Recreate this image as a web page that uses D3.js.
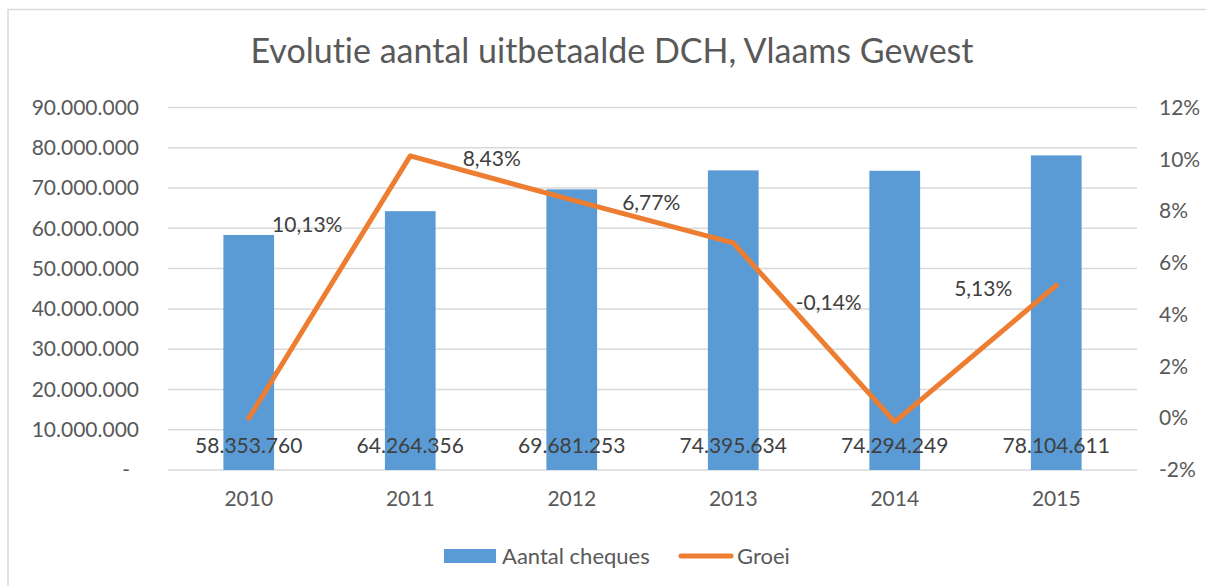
<!DOCTYPE html>
<html>
<head>
<meta charset="utf-8">
<script src="https://cdn.jsdelivr.net/npm/d3@7"></script>
<style>
  html, body { margin: 0; padding: 0; background: #fff; }
  svg { display: block; font-family: Lato, "Open Sans", sans-serif; font-variant-ligatures: none; font-feature-settings: "liga" 0, "clig" 0; }
</style>
</head>
<body>
<svg id="chart" width="1206" height="586"></svg>
<script>
// ---- data ----
const years = ["2010", "2011", "2012", "2013", "2014", "2015"];
const aantalCheques = [58353760, 64264356, 69681253, 74395634, 74294249, 78104611];
const groei = [0, 10.13, 8.43, 6.77, -0.14, 5.13];            // percent
const groeiLabels = [null, "10,13%", "8,43%", "6,77%", "-0,14%", "5,13%"];
const leftTicks = [0, 10000000, 20000000, 30000000, 40000000, 50000000, 60000000, 70000000, 80000000, 90000000];
const rightTicks = [-2, 0, 2, 4, 6, 8, 10, 12];
const title = "Evolutie aantal uitbetaalde DCH, Vlaams Gewest";
const legendNames = ["Aantal cheques", "Groei"];

// ---- layout / style (not data) ----
const groeiLabelDx = [0, -103, -80, -82, -66, -73];
const groeiLabelDy = [0, 69, -41, -40, -119, 3];
const W = 1206, H = 586;
const plot = { left: 168, right: 1137, top: 107.5, bottom: 470 };
const barColor = "#5b9bd5", lineColor = "#ed7d31", gridColor = "#d9d9d9";
const axisText = "#595959", labelText = "#404040";

const svg = d3.select("#chart");

// chart border (only top & left visible in frame)
svg.append("rect").attr("x", 8).attr("y", 9.5).attr("width", W + 20).attr("height", H + 20)
  .attr("fill", "#fff").attr("stroke", gridColor).attr("stroke-width", 1.5);

const x = d3.scaleBand().domain(years).range([plot.left, plot.right]).padding(0);
const yL = d3.scaleLinear().domain([0, 90000000]).range([plot.bottom, plot.top]);
const yR = d3.scaleLinear().domain([-2, 12]).range([plot.bottom, plot.top]);
const cx = yr => x(yr) + x.bandwidth() / 2;

const fmtNL = d3.formatLocale({ decimal: ",", thousands: ".", grouping: [3], currency: ["€", ""] });
const fmtInt = fmtNL.format(",d");

// gridlines
svg.append("g").selectAll("line").data(leftTicks).join("line")
  .attr("x1", plot.left).attr("x2", plot.right)
  .attr("y1", d => yL(d)).attr("y2", d => yL(d))
  .attr("stroke", gridColor).attr("stroke-width", 1.5);

// left axis
const leftAxis = d3.axisLeft(yL).tickValues(leftTicks).tickSize(0).tickPadding(0)
  .tickFormat(d => d === 0 ? "-" : fmtInt(d));
const gL = svg.append("g").attr("transform", `translate(${plot.left - 29},0)`).call(leftAxis);
gL.select(".domain").remove();
gL.selectAll("text").attr("fill", axisText).style("font-size", "21px").style("font-family", "Lato")
  .attr("dx", d => d === 0 ? -9 : 0);

// right axis
const rightAxis = d3.axisRight(yR).tickValues(rightTicks).tickSize(0).tickPadding(0)
  .tickFormat(d => d + "%");
const gR = svg.append("g").attr("transform", `translate(${plot.right + 22},0)`).call(rightAxis);
gR.select(".domain").remove();
gR.selectAll("text").attr("fill", axisText).style("font-size", "21px").style("font-family", "Lato");

// bottom axis
const bottomAxis = d3.axisBottom(x).tickSize(0).tickPadding(0);
const gB = svg.append("g").attr("transform", `translate(0,${plot.bottom + 21})`).call(bottomAxis);
gB.select(".domain").remove();
gB.selectAll("text").attr("fill", axisText).style("font-size", "21px").style("font-family", "Lato");

// bars
const barData = years.map((yr, i) => ({ yr, v: aantalCheques[i] }));
const barW = x.bandwidth() * 0.314;
svg.append("g").selectAll("rect").data(barData).join("rect")
  .attr("x", d => cx(d.yr) - barW / 2)
  .attr("width", barW)
  .attr("y", d => yL(d.v))
  .attr("height", d => yL(0) - yL(d.v))
  .attr("fill", barColor);

// bar value labels (at the base)
svg.append("g").selectAll("text").data(barData).join("text")
  .attr("x", d => cx(d.yr))
  .attr("y", yL(0) - 17)
  .attr("text-anchor", "middle")
  .attr("fill", labelText).style("font-size", "21px")
  .text(d => fmtInt(d.v));

// line
const lineData = years.map((yr, i) => ({ yr, v: groei[i], label: groeiLabels[i], dx: groeiLabelDx[i], dy: groeiLabelDy[i] }));
const line = d3.line().x(d => cx(d.yr)).y(d => yR(d.v));
svg.append("path").datum(lineData)
  .attr("d", line).attr("fill", "none")
  .attr("stroke", lineColor).attr("stroke-width", 5)
  .attr("stroke-linecap", "round").attr("stroke-linejoin", "round");

// line labels
svg.append("g").selectAll("text").data(lineData.filter(d => d.label !== null)).join("text")
  .attr("x", d => cx(d.yr) + d.dx)
  .attr("y", d => yR(d.v) + d.dy)
  .attr("dy", "0.35em")
  .attr("text-anchor", "middle")
  .attr("fill", labelText).style("font-size", "21px")
  .text(d => d.label);

// title
svg.append("text").attr("x", 612).attr("y", 63).attr("text-anchor", "middle")
  .attr("fill", axisText).style("font-size", "34px").text(title);

// legend
const lg = svg.append("g");
lg.append("rect").attr("x", 444).attr("y", 549).attr("width", 52).attr("height", 14).attr("fill", barColor);
lg.append("text").attr("x", 502).attr("y", 556).attr("dy", "0.35em")
  .attr("fill", axisText).style("font-size", "22px").text(legendNames[0]);
lg.append("line").attr("x1", 681).attr("x2", 731).attr("y1", 556).attr("y2", 556)
  .attr("stroke", lineColor).attr("stroke-width", 5).attr("stroke-linecap", "round");
lg.append("text").attr("x", 737).attr("y", 556).attr("dy", "0.35em")
  .attr("fill", axisText).style("font-size", "22px").text(legendNames[1]);
</script>
</body>
</html>
